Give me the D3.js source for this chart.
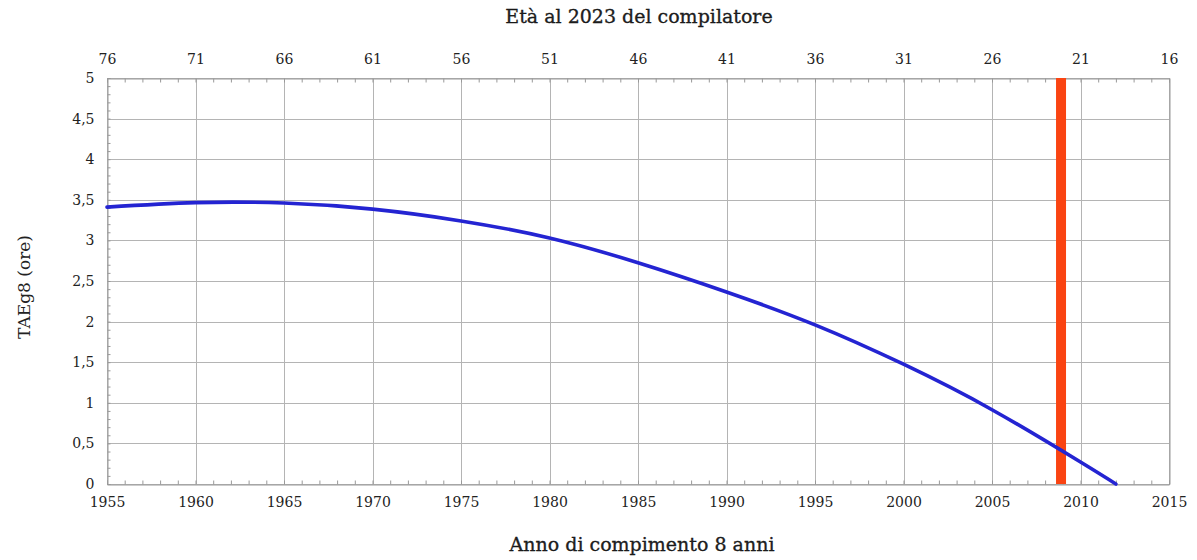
<!DOCTYPE html>
<html>
<head>
<meta charset="utf-8">
<script src="https://cdn.jsdelivr.net/npm/d3@7"></script>
<style>
  body { margin: 0; background: #fff; }
  svg { display: block; }
  text { font-family: "DejaVu Serif", "Liberation Serif", serif; fill: #222; }
</style>
</head>
<body>
<svg id="chart" width="1197" height="560"></svg>
<script>
// ---- data ----
const years = [1955, 1960, 1965, 1970, 1975, 1980, 1985, 1990, 1995, 2000, 2005, 2010, 2012];
const taeg8 = [3.41, 3.465, 3.46, 3.385, 3.24, 3.03, 2.725, 2.365, 1.96, 1.475, 0.915, 0.27, 0.0];
const markerYear = 2008.9;
const xTicks = [1955, 1960, 1965, 1970, 1975, 1980, 1985, 1990, 1995, 2000, 2005, 2010, 2015];
const yTicks = [0, 0.5, 1, 1.5, 2, 2.5, 3, 3.5, 4, 4.5, 5];
const refYear = 2023, ageOffset = 8;
const titleTop = "Età al 2023 del compilatore";
const titleBottom = "Anno di compimento 8 anni";
const titleY = "TAEg8 (ore)";

// ---- layout ----
const svg = d3.select("#chart");
const L = 107, R = 1169, T = 78, B = 484;
const x = d3.scaleLinear().domain([1955, 2015]).range([L, R]);
const y = d3.scaleLinear().domain([0, 5]).range([B, T]);
const fmt = d => String(d).replace(".", ",");

// grid
const grid = svg.append("g").attr("stroke", "#b4b4b4").attr("stroke-width", 1);
grid.selectAll("line.v").data(xTicks).join("line")
  .attr("x1", d => Math.round(x(d)) + 0.5).attr("x2", d => Math.round(x(d)) + 0.5)
  .attr("y1", T).attr("y2", B);
grid.selectAll("line.h").data(yTicks).join("line")
  .attr("y1", d => Math.round(y(d)) + 0.5).attr("y2", d => Math.round(y(d)) + 0.5)
  .attr("x1", L).attr("x2", R);

// axes
const minorX = d3.range(1955, 2016, 1);
const minorY = d3.range(0, 5.01, 0.1);

const gB = svg.append("g").attr("transform", `translate(0,${B + 0.5})`)
  .call(d3.axisBottom(x).tickValues(minorX).tickSize(-4).tickFormat(""));
const gBl = svg.append("g").attr("transform", `translate(0,${B + 0.5})`)
  .call(d3.axisBottom(x).tickValues(xTicks).tickSize(0).tickPadding(13).tickFormat(d3.format("d")));

const gT = svg.append("g").attr("transform", `translate(0,${T + 0.5})`)
  .call(d3.axisTop(x).tickValues(minorX).tickSize(-4).tickFormat(""));
const gTl = svg.append("g").attr("transform", `translate(0,${T + 0.5})`)
  .call(d3.axisTop(x).tickValues(xTicks).tickSize(0).tickPadding(15).tickFormat(d => refYear - d + ageOffset));

const gL = svg.append("g").attr("transform", `translate(${L + 0.5},0)`)
  .call(d3.axisLeft(y).tickValues(minorY).tickSize(-3).tickFormat(""));
const gLl = svg.append("g").attr("transform", `translate(${L + 0.5},0)`)
  .call(d3.axisLeft(y).tickValues(yTicks).tickSize(0).tickPadding(13).tickFormat(fmt));

[gB, gT, gL].forEach(g => {
  g.select(".domain").attr("stroke", "#999");
  g.selectAll(".tick line").attr("stroke", "#999");
});
[gBl, gTl, gLl].forEach(g => {
  g.select(".domain").remove();
  g.selectAll(".tick text").attr("font-family", "DejaVu Serif, serif")
    .attr("font-size", 14).attr("fill", "#1a1a1a");
});
const gR = svg.append("g").attr("transform", `translate(${R + 0.5},0)`)
  .call(d3.axisRight(y).tickValues([]).tickSize(0));
gR.select(".domain").attr("stroke", "#999");

// marker bar
svg.append("line")
  .attr("x1", x(markerYear)).attr("x2", x(markerYear))
  .attr("y1", y(5)).attr("y2", y(0))
  .attr("stroke", "#fa4412").attr("stroke-width", 10);

// curve
const pts = years.map((d, i) => [d, taeg8[i]]);
svg.append("path").datum(pts)
  .attr("fill", "none").attr("stroke", "#2424d2").attr("stroke-width", 3.6)
  .attr("stroke-linecap", "round")
  .attr("d", d3.line().x(d => x(d[0])).y(d => y(d[1])).curve(d3.curveNatural));

// titles
svg.append("text").attr("x", 639).attr("y", 23).attr("text-anchor", "middle")
  .attr("font-size", 19).attr("fill", "#111").attr("stroke", "#111").attr("stroke-width", 0.3)
  .text(titleTop);
svg.append("text").attr("x", 642).attr("y", 551).attr("text-anchor", "middle")
  .attr("font-size", 19).attr("fill", "#111").attr("stroke", "#111").attr("stroke-width", 0.3)
  .text(titleBottom);
svg.append("text").attr("transform", `translate(30,287) rotate(-90)`).attr("text-anchor", "middle")
  .attr("font-size", 17).attr("fill", "#111").text(titleY);
</script>
</body>
</html>
